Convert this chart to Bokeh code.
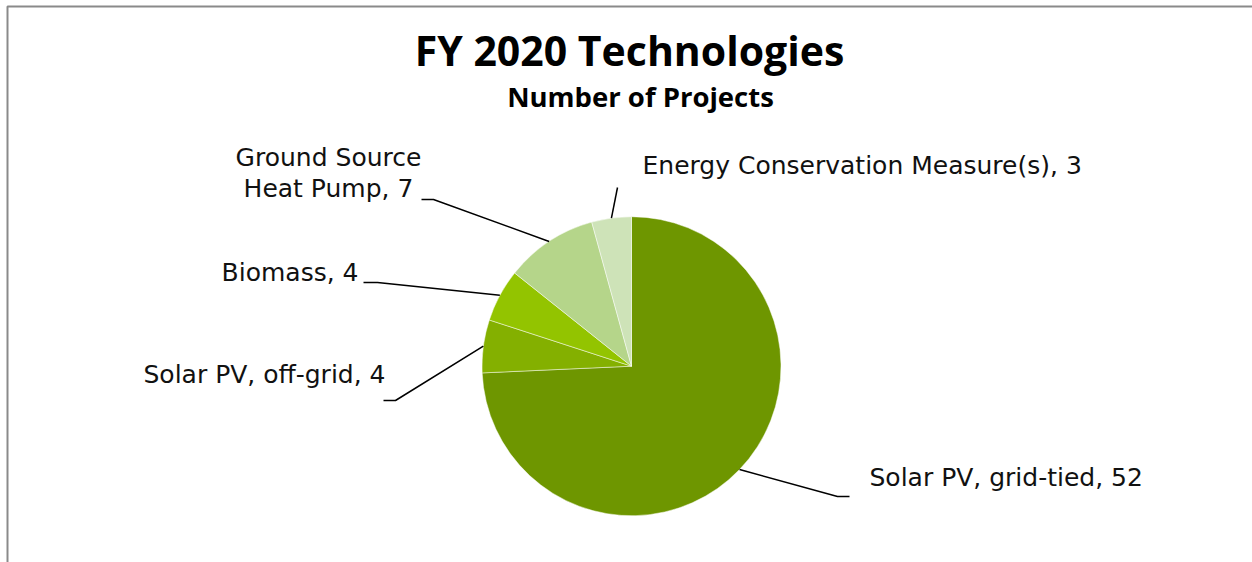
import math
from bokeh.plotting import figure
from bokeh.models import Range1d, ColumnDataSource
from bokeh.core.properties import value
from bokeh.embed import file_html
from bokeh.resources import INLINE

# ---- data ----
categories = ["Solar PV, grid-tied", "Solar PV, off-grid", "Biomass",
              "Ground Source Heat Pump", "Energy Conservation Measure(s)"]
counts = [52, 4, 4, 7, 3]
colors = ["#6e9600", "#84b000", "#93c400", "#b5d58a", "#cee3b8"]
title_text = "FY 2020 Technologies"
subtitle_text = "Number of Projects"

# ---- layout ----
W, H = 1252, 562
TITLE_FONT = "Open Sans"
LABEL_FONT = "DejaVu Sans"
LABEL_PX = 25
K = 0.45  # baseline correction factor


def Y(py):
    return H - py


p = figure(width=W, height=H, x_range=Range1d(0, W), y_range=Range1d(0, H),
           output_backend="svg", toolbar_location=None, min_border=0,
           outline_line_color=None)
p.axis.visible = False
p.grid.visible = False
p.background_fill_color = "white"
p.border_fill_color = "white"

# frame
p.line(x=[7, 7, W], y=[Y(H), Y(6), Y(6)], line_color="#8a8a8a", line_width=2)

cx, cy, r = 631, Y(365.7), 149.5
total = sum(counts)
cum = 0
starts, ends, mids = [], [], []
for c in counts:
    a0 = math.pi / 2 - 2 * math.pi * cum / total
    a1 = math.pi / 2 - 2 * math.pi * (cum + c) / total
    starts.append(a0)
    ends.append(a1)
    mids.append((a0 + a1) / 2)
    cum += c

src = ColumnDataSource(dict(start=starts, end=ends, color=colors))
p.wedge(x=cx, y=cy, radius=r, start_angle="start", end_angle="end",
        direction="clock", fill_color="color", line_color="white",
        line_width=0.8, line_alpha=0.6, source=src)

# label layout: elbow points, text anchor, alignment
elbows = [
    [(837, 496), (849, 496)],
    [(395, 400), (383, 400)],
    [(377, 282), (363, 282)],
    [(433, 199), (421, 199)],
    [(617, 187)],
]
anchors = [(869, 488, "left"), (385, 385, "right"), (358, 283, "right"),
           (328, 168, "center"), (642, 176, "left")]
line_breaks = {"Ground Source Heat Pump": "Ground Source\nHeat Pump"}
LINE_H = 31

xs_l, ys_l = [], []
for i, m in enumerate(mids):
    ex, ey = cx + r * math.cos(m), cy + r * math.sin(m)
    xs = [ex] + [e[0] for e in elbows[i]]
    ys = [ey] + [Y(e[1]) for e in elbows[i]]
    xs_l.append(xs)
    ys_l.append(ys)
p.multi_line(xs=xs_l, ys=ys_l, line_color="black", line_width=1.5)

tx, ty, tt, ta = [], [], [], []
for i, cat in enumerate(categories):
    label = f"{line_breaks.get(cat, cat)}, {counts[i]}"
    ax, ay, al = anchors[i]
    for k, part in enumerate(label.split("\n")):
        tx.append(ax)
        ty.append(Y(ay + k * LINE_H - K * LABEL_PX))
        tt.append(part)
        ta.append(al)
p.text(x="x", y="y", text="t", text_align="a",
       source=ColumnDataSource(dict(x=tx, y=ty, t=tt, a=ta)),
       text_baseline="alphabetic", text_font=value(LABEL_FONT),
       text_font_size=f"{LABEL_PX}px", text_color="#111111")

p.text(x=[629], y=[Y(68 - K * 41)], text=[title_text], text_align="center",
       text_baseline="alphabetic", text_font=value(TITLE_FONT),
       text_font_size="41px", text_font_style="bold", text_color="black")
p.text(x=[640], y=[Y(108 - K * 27.5)], text=[subtitle_text], text_align="center",
       text_baseline="alphabetic", text_font=value(TITLE_FONT),
       text_font_size="27.5px", text_font_style="bold", text_color="black")

open("out.html", "w").write(file_html(p, INLINE))
